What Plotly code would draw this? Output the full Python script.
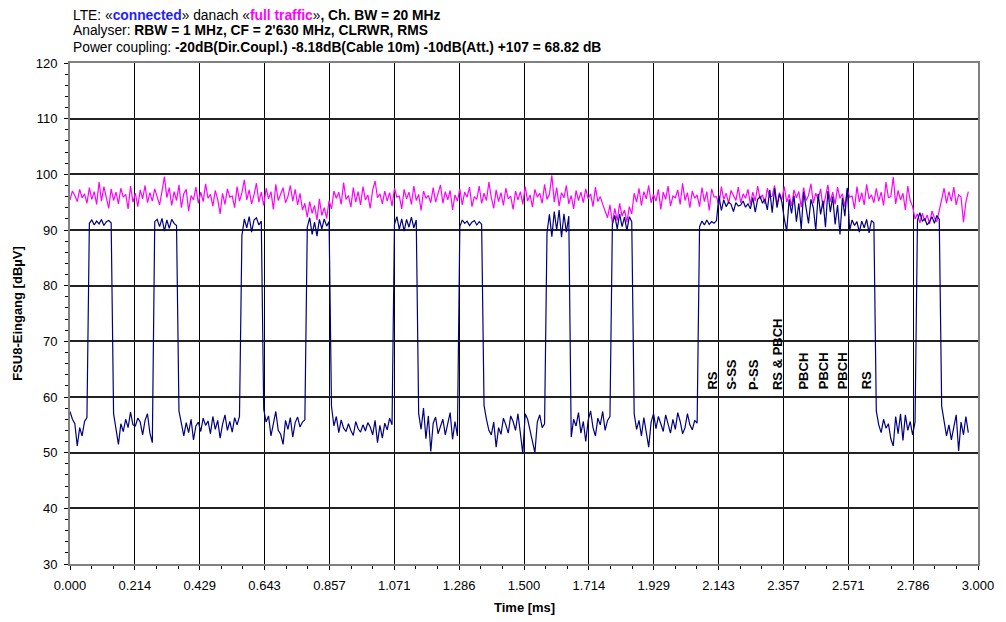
import plotly.graph_objects as go

# ---------------- data ----------------
t_step_ms = 0.008          # sample spacing of the trace [ms]
n_samples = 372

# blue trace: "connected" (dBµV)
connected = [
    # low 0-7
    57.4, 56.0, 55.2, 51.2, 54.5, 53.0, 55.6, 56.3,
    # high 8-17
    91.2, 91.8, 90.9, 91.6, 91.1, 91.9, 90.8, 91.5, 91.7, 91.3,
    # low 18-34
    57.0, 54.0, 51.5, 55.2, 53.8, 56.0, 54.5, 57.3, 55.0, 54.8, 56.2, 55.5, 53.2, 55.8, 57.0, 53.5, 51.8,
    # high 35-44
    91.5, 91.9, 90.6, 92.1, 89.8, 91.8, 90.3, 91.9, 91.2, 90.8,
    # low 45-70
    57.5, 55.0, 53.0, 55.4, 53.6, 56.0, 52.3, 54.8, 55.5, 53.8, 56.2, 54.9, 55.7, 53.4, 56.5, 54.2,
    55.8, 52.6, 55.1, 56.8, 54.0, 55.6, 53.7, 56.3, 55.0, 56.5,
    # high 71-79
    89.0, 92.0, 90.4, 92.4, 89.6, 91.8, 92.2, 90.9, 91.6,
    # low 80-97
    57.8, 55.5, 56.6, 53.0, 55.2, 57.4, 54.0, 53.3, 51.5, 55.8, 54.2, 56.3, 52.8, 55.4, 56.4, 54.6, 55.5, 55.9,
    # high 98-107
    90.5, 92.2, 89.2, 91.4, 88.9, 91.9, 90.2, 92.0, 90.7, 91.5,
    # low 108-133
    58.3, 54.8, 56.5, 53.6, 55.9, 54.4, 53.8, 55.2, 54.0, 53.1, 55.6, 54.3, 53.7, 55.0, 53.9, 55.4,
    54.6, 53.2, 55.8, 51.8, 54.9, 52.6, 55.3, 54.1, 56.2, 55.0,
    # high 134-143
    91.0, 92.4, 90.1, 92.0, 89.8, 91.9, 90.5, 92.3, 90.4, 91.8,
    # low 144-160
    57.0, 54.2, 58.0, 52.5, 56.6, 50.2, 55.3, 56.4, 53.4, 54.6, 56.0, 53.2, 55.1, 57.2, 52.4, 55.6, 53.0,
    # high 161-170
    90.6, 91.8, 91.2, 91.6, 90.8, 91.4, 91.7, 90.9, 91.5, 91.0,
    # low 171-196
    58.5, 56.0, 54.0, 53.2, 55.5, 51.0, 54.5, 53.3, 56.2, 55.0, 53.5, 56.6, 55.6, 54.0, 57.0, 53.5,
    49.8, 57.0, 56.0, 54.0, 52.0, 50.0, 55.5, 56.8, 54.5, 55.2,
    # high 197-206
    89.5, 92.8, 88.8, 93.3, 90.0, 93.6, 88.7, 92.9, 89.6, 92.5,
    # low 207-223
    52.8, 56.0, 54.8, 57.2, 53.5, 55.6, 52.0, 55.8, 57.5, 54.5, 53.0, 56.2, 55.0, 57.4, 54.0, 55.8, 56.5,
    # high 224-232
    91.0, 92.6, 90.2, 92.9, 90.6, 92.3, 89.9, 92.4, 91.5,
    # low 233-259
    57.0, 54.2, 55.8, 53.0, 56.3, 54.0, 51.0, 55.5, 57.0, 54.3, 56.5, 55.2, 53.8, 56.8, 55.0, 53.5,
    56.0, 54.2, 57.2, 55.6, 53.4, 54.5, 57.0, 55.0, 54.1, 55.8, 55.3,
    # high 260-332 (RS, S-SS, P-SS, RS & PBCH, PBCH, RS)
    90.6, 91.6, 90.9, 91.8, 91.0, 91.5, 91.2, 91.7,
    96.2, 93.5, 95.4, 94.2, 95.0, 94.6, 93.3, 94.9, 94.3, 94.5, 95.2, 94.1, 94.7, 93.8, 95.8, 93.2,
    95.5, 96.0, 94.8, 95.6, 93.6, 97.2, 93.1, 97.5, 94.0, 96.5, 95.0,
    92.0, 89.8, 95.5, 93.0, 96.2, 91.5, 94.8, 90.2, 96.8, 93.6, 91.2, 95.5, 94.0, 89.9, 96.5, 92.8,
    95.3, 90.5, 97.0, 93.2, 96.0, 91.0, 94.5, 89.2, 95.8, 92.5, 97.6,
    90.0, 91.8, 90.8, 91.5, 89.6, 91.6, 90.4, 91.9, 89.5, 91.7, 91.3,
    # low 333-349
    57.5, 55.0, 53.6, 56.0, 54.4, 55.2, 52.5, 51.2, 56.5, 53.4, 57.0, 52.2, 56.8, 54.0, 55.6, 53.2, 55.5,
    # high 350-359
    91.8, 93.1, 91.6, 92.0, 90.9, 91.5, 92.4, 91.2, 92.6, 91.9,
    # low 360-371
    58.3, 56.0, 53.0, 55.0, 52.3, 54.6, 56.8, 50.3, 55.5, 53.2, 56.5, 53.6,
]

# magenta trace: "full traffic" (dBµV)
full_traffic = [
    95.4, 97.0, 96.2, 95.1, 97.3, 95.8, 96.5, 94.8, 97.6, 95.5, 96.9, 94.6, 98.6, 95.2, 97.8, 96.0, 93.9, 97.4, 95.3, 96.8,
    94.7, 97.5, 95.9, 96.4, 93.8, 97.9, 95.0, 96.6, 94.2, 97.2, 95.6, 98.0, 94.9, 96.7, 95.2, 97.4, 96.0, 94.5, 97.0, 99.6,
    95.8, 97.6, 94.4, 96.9, 95.3, 98.1, 94.0, 96.5, 97.3, 93.4, 96.2, 95.4, 97.7, 94.8, 96.8, 95.1, 98.3, 95.7, 96.4, 94.3,
    97.1, 95.5, 92.9, 96.6, 94.6, 97.4, 95.9, 96.1, 94.0, 97.8, 95.2, 96.7, 99.0, 95.4, 97.2, 94.7, 96.3, 98.4, 95.0, 96.8,
    94.4, 97.5, 95.6, 96.9, 93.7, 98.2, 95.3, 96.4, 97.6, 94.9, 96.0, 98.0, 95.2, 97.3, 94.5, 96.6, 93.6, 94.8, 92.3, 95.1,
    93.0, 94.4, 91.8, 95.6, 92.6, 94.0, 92.1, 95.3, 93.8, 97.0, 95.7, 96.8, 94.6, 98.5, 95.5, 96.2, 94.1, 97.6, 95.0, 96.9,
    94.5, 97.8, 95.4, 96.3, 93.9, 97.2, 98.8, 95.8, 96.5, 94.7, 97.0, 95.2, 96.7, 94.3, 97.5, 95.9, 96.1, 93.8, 97.3, 95.6,
    96.8, 94.6, 97.9, 95.3, 96.4, 93.5, 97.0, 95.7, 96.2, 94.9, 97.6, 95.0, 96.5, 98.1, 94.8, 96.9, 95.4, 97.1, 93.6, 96.3,
    95.2, 97.4, 94.5, 96.8, 95.9, 97.7, 94.2, 96.0, 95.5, 97.9, 94.8, 96.6, 95.3, 98.6, 95.8, 93.9, 97.2, 95.1, 96.7, 94.4,
    97.5, 95.6, 96.1, 93.7, 97.0, 95.4, 96.9, 94.6, 97.8, 95.2, 96.3, 94.1, 97.3, 95.9, 96.6, 94.8, 98.2, 95.5, 96.4, 99.8,
    95.0, 97.6, 94.3, 96.7, 95.8, 98.0, 94.7, 96.2, 93.8, 97.1, 95.3, 96.8, 94.9, 97.4, 95.6, 96.5, 94.2, 97.7, 95.1, 96.0,
    94.6, 93.4, 92.2, 94.5, 91.2, 93.9, 91.7, 94.8, 92.5, 93.6, 91.4, 94.2, 92.9, 96.6, 95.0, 97.5, 94.4, 96.9, 95.6, 98.0,
    94.9, 96.4, 95.2, 97.3, 93.7, 96.8, 95.5, 97.9, 94.3, 96.1, 95.8, 97.2, 94.6, 98.4, 95.3, 96.7, 94.0, 97.0, 95.7, 96.3,
    94.2, 97.6, 95.1, 96.9, 93.5, 97.4, 95.9, 96.0, 94.4, 97.8, 95.5, 96.6, 94.8, 97.1, 96.2, 95.3, 97.7, 94.9, 96.5, 95.7,
    97.3, 94.6, 96.8, 95.2, 97.9, 95.6, 96.3, 94.7, 97.5, 95.9, 96.1, 98.0, 94.5, 96.7, 95.4, 97.8, 95.0, 96.4, 94.3, 97.2,
    95.8, 96.9, 94.1, 97.6, 95.3, 96.2, 98.3, 94.8, 96.6, 95.5, 97.4, 93.9, 96.0, 98.1, 95.1, 96.8, 94.6, 97.7, 95.7, 96.5,
    94.2, 97.3, 95.9, 96.1, 93.8, 97.8, 95.0, 96.7, 94.5, 98.2, 95.6, 96.3, 94.9, 97.5, 95.2, 96.8, 94.4, 98.6, 95.8, 96.0,
    99.5, 94.7, 97.1, 95.4, 96.6, 93.6, 97.9, 95.3, 94.2, 92.0, 92.9, 91.3, 93.0, 91.6, 92.7, 91.1, 93.4, 92.2, 91.5, 93.6,
    95.6, 97.5, 94.8, 96.9, 95.2, 97.7, 94.5, 96.3, 95.9, 91.4, 95.0, 96.9,
]

time_ms = [round(i * t_step_ms, 3) for i in range(n_samples)]

x_tick_labels = ["0.000", "0.214", "0.429", "0.643", "0.857", "1.071", "1.286", "1.500",
                 "1.714", "1.929", "2.143", "2.357", "2.571", "2.786", "3.000"]
x_tick_vals = [k * 3.0 / 14.0 for k in range(len(x_tick_labels))]

marker_labels = ["RS", "S-SS", "P-SS", "RS &amp; PBCH", "PBCH", "PBCH", "PBCH", "RS"]
marker_times = [2.124, 2.186, 2.256, 2.337, 2.423, 2.488, 2.551, 2.632]
marker_level = 60.95

title_lines = [
    "LTE: «<b><span style='color:#1F1FFF'>connected</span></b>» danach «<b><span style='color:#FF00FF'>full traffic</span></b>»<b>, Ch. BW = 20 MHz</b>",
    "Analyser: <b>RBW = 1 MHz, CF = 2'630 MHz, CLRWR, RMS</b>",
    "Power coupling: <b>-20dB(Dir.Coupl.) -8.18dB(Cable 10m) -10dB(Att.) +107 = 68.82 dB</b>",
]
title_y = [1.0958, 1.0639, 1.0319]

# ---------------- figure ----------------
FONT = "Liberation Sans, Arial, sans-serif"
fig = go.Figure()
fig.add_trace(go.Scatter(x=time_ms, y=full_traffic, mode="lines",
                         line=dict(color="#FF00FF", width=1.2), name="full traffic"))
fig.add_trace(go.Scatter(x=time_ms, y=connected, mode="lines",
                         line=dict(color="#000080", width=1.2), name="connected"))

for lab, tm in zip(marker_labels, marker_times):
    fig.add_annotation(x=tm, y=marker_level, xref="x", yref="y", text="<b>" + lab + "</b>",
                       textangle=-90, showarrow=False, xanchor="center", yanchor="bottom",
                       font=dict(family=FONT, size=13, color="#000"))

for line, yy in zip(title_lines, title_y):
    fig.add_annotation(x=0.001, y=yy, xref="paper", yref="paper", xanchor="left", yanchor="middle",
                       align="left", showarrow=False, text=line,
                       font=dict(family=FONT, size=13.8, color="#000"))

fig.add_annotation(x=-0.058, y=0.5, xref="paper", yref="paper", text="<b>FSU8-Eingang [dBµV]</b>",
                   textangle=-90, showarrow=False, xanchor="center", yanchor="middle",
                   font=dict(family=FONT, size=13, color="#000"))
fig.add_annotation(x=0.5, y=-0.0868, xref="paper", yref="paper", text="<b>Time [ms]</b>",
                   showarrow=False, xanchor="center", yanchor="middle",
                   font=dict(family=FONT, size=13, color="#000"))

fig.update_layout(
    width=998, height=614,
    margin=dict(l=62, r=23, t=55, b=58, pad=0),
    paper_bgcolor="white", plot_bgcolor="white",
    showlegend=False,
    font=dict(family=FONT, size=13, color="#000"),
)
fig.update_xaxes(range=[0, 3], tickvals=x_tick_vals, ticktext=x_tick_labels,
                 showgrid=True, gridcolor="#000", gridwidth=1,
                 showline=True, linecolor="#808080", linewidth=2, mirror=True,
                 ticks="outside", ticklen=4, tickcolor="#000", ticklabelstandoff=4,
                 minor=dict(dtick=3.0 / 42.0, tick0=0, ticks="outside", ticklen=3, tickcolor="#000", showgrid=False),
                 zeroline=False)
fig.update_yaxes(range=[30, 120], tick0=30, dtick=10,
                 showgrid=True, gridcolor="#222", gridwidth=1.5,
                 showline=True, linecolor="#808080", linewidth=2, mirror=True,
                 ticks="outside", ticklen=4, tickcolor="#000", ticklabelstandoff=4,
                 minor=dict(dtick=2, ticks="outside", ticklen=3, tickcolor="#000", showgrid=False),
                 zeroline=False)

fig.write_html("out.html")
